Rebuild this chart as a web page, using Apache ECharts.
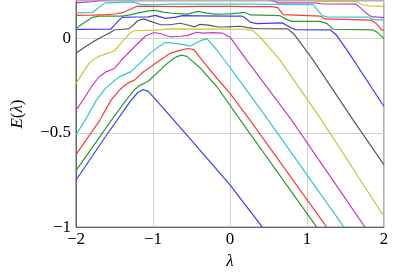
<!DOCTYPE html>
<html><head><meta charset="utf-8">
<script src="https://cdn.jsdelivr.net/npm/echarts/dist/echarts.min.js"></script>
<style>html,body{margin:0;padding:0;background:#fff}#c{width:395px;height:275px}</style>
</head><body><div id="c"></div>
<script>
const xTickLabels = [-2, -1, 0, 1, 2];
const yTickLabels = [-1, -0.5, 0];

const blue1 = [[-2,-0.75],[-1.6,-0.51],[-1.3,-0.335],[-1.2,-0.287],[-1.13,-0.27],[-1.06,-0.28],[-0.95,-0.33],[-0.5,-0.54],[0,-0.776],[0.42,-1.0]];
const green1 = [[-2,-0.70],[-1.54,-0.432],[-1.35,-0.326],[-1.25,-0.275],[-1.18,-0.250],[-1.11,-0.236],[-1.05,-0.222],[-0.87,-0.152],[-0.75,-0.11],[-0.69,-0.095],[-0.63,-0.087],[-0.56,-0.094],[-0.40,-0.15],[-0.17,-0.255],[0.13,-0.43],[1.126,-1.0]];
const red1 = [[-2,-0.615],[-1.69,-0.432],[-1.545,-0.326],[-1.45,-0.28],[-1.39,-0.255],[-1.31,-0.232],[-1.24,-0.220],[-1.13,-0.178],[-1.04,-0.152],[-0.91,-0.115],[-0.78,-0.078],[-0.65,-0.062],[-0.55,-0.052],[-0.47,-0.058],[-0.35,-0.12],[-0.17,-0.21],[0,-0.29],[0.26,-0.432],[1.256,-1.0]];
const cyan1 = [[-2,-0.51],[-1.88,-0.432],[-1.74,-0.33],[-1.62,-0.265],[-1.52,-0.229],[-1.44,-0.204],[-1.35,-0.187],[-1.29,-0.176],[-1.13,-0.114],[-1.04,-0.078],[-0.95,-0.05],[-0.84,-0.02],[-0.69,-0.026],[-0.56,-0.034],[-0.52,-0.04],[-0.39,-0.012],[-0.30,0.0],[-0.17,-0.06],[0.13,-0.225],[0.497,-0.432],[1.48,-1.0]];
const magenta1 = [[-2,-0.38],[-1.91,-0.326],[-1.80,-0.255],[-1.70,-0.202],[-1.61,-0.176],[-1.50,-0.158],[-1.39,-0.105],[-1.24,-0.043],[-1.09,0.017],[-0.98,0.033],[-0.90,0.026],[-0.78,0.01],[-0.65,0.013],[-0.56,0.016],[-0.43,0.034],[-0.35,0.03],[-0.22,0.032],[-0.1,0.03],[0,0.008],[0.217,-0.114],[0.80,-0.432],[1.753,-1.0]];
const yellow1 = [[-2,-0.237],[-1.91,-0.18],[-1.83,-0.131],[-1.76,-0.107],[-1.70,-0.093],[-1.57,-0.075],[-1.50,-0.064],[-1.39,-0.012],[-1.29,0.033],[-1.24,0.042],[-1.0,0.045],[-0.88,0.048],[-0.8,0.052],[0.2,0.05],[0.30,0.043],[0.40,0.005],[0.65,-0.114],[1.19,-0.432],[2,-0.944]];
const black1 = [[-2,-0.077],[-1.89,-0.045],[-1.78,-0.017],[-1.66,0.01],[-1.56,0.032],[-1.50,0.046],[-1.40,0.05],[-1.32,0.052],[-1.26,0.07],[-1.20,0.095],[-1.12,0.105],[-1.04,0.093],[-0.91,0.075],[-0.78,0.074],[-0.65,0.082],[-0.56,0.074],[-0.46,0.063],[-0.39,0.076],[-0.28,0.072],[-0.15,0.062],[-0.04,0.063],[0.13,0.066],[0.22,0.06],[0.30,0.055],[0.35,0.053],[0.75,0.052],[0.83,0.025],[1.08,-0.114],[1.60,-0.432],[2,-0.67]];
const blue2 = [[-2,0.049],[-1.55,0.05],[-1.50,0.072],[-1.45,0.095],[-1.40,0.113],[-1.2,0.115],[-1.06,0.116],[-0.97,0.124],[-0.84,0.108],[-0.7,0.114],[-0.62,0.122],[-0.4,0.121],[0,0.12],[0.15,0.12],[0.20,0.11],[0.26,0.088],[0.35,0.08],[0.68,0.084],[0.74,0.07],[0.79,0.058],[0.85,0.048],[1.30,0.047],[1.38,0.02],[1.52,-0.061],[2,-0.36]];
const green2 = [[-2,0.054],[-1.9,0.083],[-1.79,0.113],[-1.70,0.12],[-1.55,0.12],[-1.40,0.12],[-1.30,0.126],[-1.19,0.137],[-1.05,0.148],[-0.97,0.15],[-0.85,0.14],[-0.75,0.135],[-0.62,0.132],[-0.545,0.13],[-0.42,0.145],[-0.30,0.136],[-0.2,0.13],[0,0.132],[0.13,0.137],[0.19,0.14],[0.26,0.126],[0.65,0.122],[0.72,0.105],[0.80,0.092],[1.17,0.092],[1.26,0.08],[1.34,0.05],[1.85,0.047],[1.91,0.035],[2,0.0]];
const red2 = [[-2,0.124],[-1.79,0.125],[-1.6,0.128],[-1.49,0.131],[-1.40,0.138],[-1.30,0.155],[-1.21,0.172],[-1.1,0.173],[-0.9,0.172],[-0.62,0.17],[-0.37,0.172],[0,0.172],[0.3,0.17],[0.54,0.17],[0.62,0.165],[0.69,0.128],[1.17,0.12],[1.23,0.105],[1.84,0.098],[1.90,0.08],[1.97,0.046],[2,0.045]];
const cyan2 = [[-2,0.137],[-1.79,0.138],[-1.72,0.16],[-1.62,0.19],[-1.45,0.193],[-1.27,0.195],[-1.21,0.19],[-1.16,0.182],[-0.99,0.18],[-0.8,0.183],[-0.62,0.183],[0,0.184],[0.65,0.182],[1.08,0.181],[1.14,0.15],[1.2,0.122],[1.26,0.116],[1.80,0.114],[1.86,0.102],[2,0.098]];
const magenta2 = [[-2,0.19],[-1.8,0.196],[-1.65,0.205],[-1.3,0.215],[0.45,0.215],[0.56,0.2],[0.63,0.19],[1.1,0.19],[1.2,0.184],[1.64,0.183],[1.70,0.162],[1.77,0.135],[1.84,0.117],[2,0.112]];
const yellow2 = [[0.9,0.215],[1.05,0.205],[1.15,0.198],[1.64,0.196],[1.72,0.18],[1.8,0.174],[2,0.172]];

const curves = [
  [blue1, '#3c3cff'], [green1, '#2f9a2f'], [red1, '#ff3a3a'], [cyan1, '#33c8c8'],
  [magenta1, '#c83cc8'], [yellow1, '#c8c832'], [black1, '#5a5a5a'],
  [blue2, '#3c3cff'], [green2, '#2f9a2f'], [red2, '#ff3a3a'], [cyan2, '#33c8c8'],
  [magenta2, '#c83cc8'], [yellow2, '#c8c832']
];

const font = 'Liberation Serif';
const minus = v => String(v).replace('-', '\u2212');
const chart = echarts.init(document.getElementById('c'), null, {renderer: 'canvas'});
chart.setOption({
  animation: false,
  backgroundColor: '#fff',
  grid: {left: 76, right: 11, top: 1, bottom: 47, show: true, borderColor: '#666', borderWidth: 1},
  xAxis: {
    type: 'value', min: -2, max: 2, interval: 1,
    axisLine: {show: true, onZero: false, lineStyle: {color: '#666'}},
    axisTick: {show: false},
    axisLabel: {fontFamily: font, fontSize: 17, color: '#000', margin: 4,
      formatter: v => xTickLabels.includes(v) ? minus(v) : ''},
    splitLine: {show: true, lineStyle: {color: '#d2d2d2', width: 1}},
    name: 'λ', nameLocation: 'middle', nameGap: 24,
    nameTextStyle: {fontFamily: font, fontSize: 17, fontStyle: 'italic', color: '#000'}
  },
  yAxis: {
    type: 'value', min: -1, max: 0.2, interval: 0.5,
    axisLine: {show: true, onZero: false, lineStyle: {color: '#666'}},
    axisTick: {show: false},
    axisLabel: {fontFamily: font, fontSize: 17, color: '#000', margin: 5, showMaxLabel: false,
      formatter: v => yTickLabels.includes(v) ? minus(v) : ''},
    splitLine: {show: true, lineStyle: {color: '#d2d2d2', width: 1}},
    name: '{i|E}({i|λ})', nameLocation: 'middle', nameGap: 50,
    nameTextStyle: {fontFamily: font, fontSize: 17, color: '#000',
      rich: {i: {fontFamily: font, fontSize: 17, fontStyle: 'italic', color: '#000'}}}
  },
  series: curves.map(([d, c]) => ({
    type: 'line', data: d, showSymbol: false, symbol: 'none', clip: true,
    lineStyle: {color: c, width: 1.2}, emphasis: {disabled: true}
  }))
});
</script>
</body></html>
